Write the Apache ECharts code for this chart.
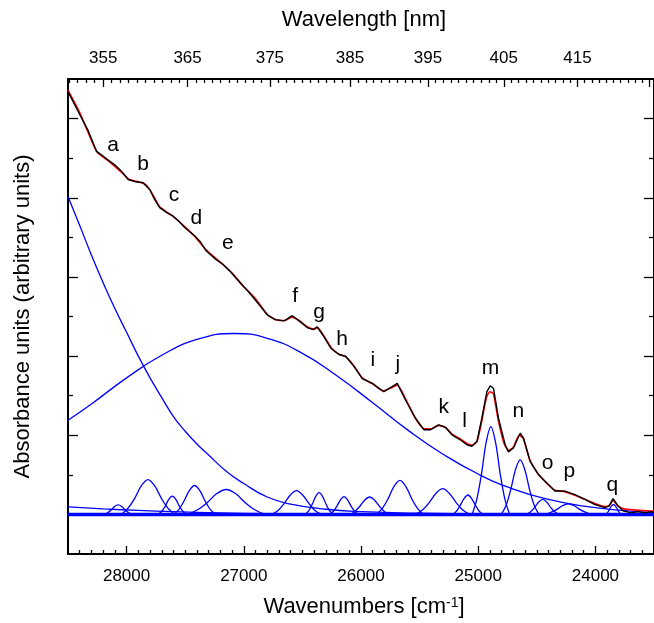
<!DOCTYPE html>
<html><head><meta charset="utf-8">
<script src="https://cdn.jsdelivr.net/npm/echarts@6/dist/echarts.min.js"></script>
<style>html,body{margin:0;padding:0;background:#fff}#c{width:654px;height:623px}</style>
</head><body><div id="c"></div>
<script>
const FONT = "'Liberation Sans', Arial, Helvetica, sans-serif";

// ---- axis ticks ----
const wnMajorTicks = [24000, 25000, 26000, 27000, 28000];
const wlMajorTicks = [355, 365, 375, 385, 395, 405, 415];
const wlUnlabeledMajor = [425];
const yMajorTicks = [0, 2, 4, 6, 8, 10];
const yMinorTicks = [1, 3, 5, 7, 9];

// ---- experimental spectrum (black) [wavenumber, absorbance] ----
const observed = [
  [28500,10.68],[28398,10.09],[28330,9.71],[28256,9.17],[28200,9.05],[28143,8.92],[28092,8.81],
  [28043,8.67],[27987,8.46],[27930,8.41],[27860,8.38],[27803,8.21],[27760,7.95],[27718,7.75],
  [27659,7.63],[27605,7.54],[27556,7.41],[27505,7.25],[27420,7.04],[27369,6.88],[27321,6.66],
  [27250,6.47],[27179,6.32],[27108,6.11],[27037,5.87],[26952,5.60],[26867,5.29],[26799,5.04],
  [26731,4.92],[26655,4.89],[26587,5.02],[26527,4.89],[26459,4.72],[26408,4.67],[26374,4.74],
  [26323,4.52],[26255,4.19],[26187,4.04],[26128,3.99],[26060,3.74],[25989,3.43],[25904,3.31],
  [25805,3.10],[25734,3.23],[25691,3.31],[25620,2.89],[25535,2.43],[25464,2.14],[25407,2.14],
  [25337,2.26],[25280,2.20],[25224,2.01],[25152,1.88],[25096,1.76],[25054,1.72],[25011,1.84],
  [24969,2.43],[24926,3.10],[24897,3.25],[24869,3.18],[24827,2.43],[24770,1.76],[24742,1.58],
  [24699,1.68],[24642,2.05],[24614,1.93],[24557,1.34],[24487,1.01],[24416,0.80],[24345,0.59],
  [24260,0.59],[24175,0.50],[24089,0.38],[24004,0.25],[23919,0.17],[23885,0.21],[23849,0.40],
  [23806,0.21],[23764,0.09],[23693,0.04],[23636,0.07],[23579,0.04],[23523,0.07],[23500,0.05]
];

// ---- fitted spectrum (red) ----
const fitted = [
  [28500,10.72],[28400,10.15],[28300,9.45],[28250,9.15],[28150,8.92],[28050,8.66],[27980,8.47],
  [27900,8.40],[27850,8.36],[27800,8.20],[27720,7.78],[27650,7.62],[27600,7.52],[27500,7.26],
  [27420,7.03],[27320,6.68],[27180,6.32],[27100,6.10],[27000,5.75],[26900,5.45],[26800,5.05],
  [26730,4.92],[26650,4.90],[26590,4.98],[26530,4.90],[26460,4.74],[26400,4.68],[26370,4.72],
  [26320,4.52],[26250,4.20],[26190,4.05],[26130,3.98],[26060,3.75],[25990,3.45],[25900,3.30],
  [25810,3.12],[25740,3.20],[25690,3.27],[25620,2.92],[25540,2.45],[25460,2.16],[25400,2.16],
  [25340,2.25],[25280,2.20],[25220,2.02],[25150,1.90],[25090,1.78],[25050,1.75],[25010,1.85],
  [24970,2.35],[24930,2.95],[24900,3.10],[24870,3.05],[24830,2.40],[24780,1.80],[24740,1.62],
  [24700,1.70],[24650,2.00],[24615,1.92],[24560,1.38],[24490,1.03],[24420,0.80],[24350,0.62],
  [24260,0.57],[24170,0.48],[24090,0.38],[24000,0.27],[23920,0.20],[23880,0.22],[23850,0.36],
  [23810,0.22],[23760,0.14],[23700,0.12],[23600,0.10],[23500,0.08]
];

// ---- fit components (blue) ----
const decayBand = [
  [28500,8.03],[28400,7.30],[28300,6.55],[28200,5.85],[28100,5.20],[28000,4.60],[27900,4.00],
  [27800,3.45],[27700,2.95],[27600,2.47],[27500,2.10],[27400,1.78],[27300,1.50],[27150,1.09],
  [27000,0.78],[26800,0.44],[26600,0.26],[26300,0.13],[26000,0.07],[25500,0.03],[24800,0.01],[23500,0.00]
];
const broadBand = [
  [28500,2.38],[28300,2.79],[28000,3.45],[27700,4.02],[27400,4.42],[27080,4.57],[26800,4.45],
  [26500,4.07],[26200,3.49],[25900,2.82],[25600,2.13],[25300,1.52],[25000,1.02],[24700,0.64],
  [24400,0.38],[24100,0.21],[23800,0.11],[23500,0.05]
];
const tailBand = [
  [28500,0.19],[28200,0.14],[27900,0.10],[27600,0.07],[27200,0.04],[26800,0.02],[26300,0.01],[25500,0.00]
];
const zeroLine = [[28500,0],[23500,0]];

const peakA = [[28192,0],[28162,0.04],[28132,0.11],[28102,0.2],[28072,0.24],[28042,0.2],[28012,0.11],[27982,0.04],[27952,0]];
const peakB = [[28047,0],[27990,0.15],[27932,0.4],[27875,0.72],[27817,0.88],[27760,0.72],[27702,0.4],[27645,0.15],[27587,0]];
const peakC = [[27730,0],[27700,0.08],[27670,0.21],[27640,0.38],[27610,0.46],[27580,0.38],[27550,0.21],[27520,0.08],[27490,0]];
const peakD = [[27600,0],[27555,0.12],[27510,0.34],[27465,0.6],[27420,0.73],[27375,0.6],[27330,0.34],[27285,0.12],[27240,0]];
const peakE = [[27480,0],[27398,0.11],[27315,0.29],[27233,0.52],[27150,0.63],[27068,0.52],[26985,0.29],[26903,0.11],[26820,0]];
const peakF = [[26760,0],[26708,0.1],[26655,0.28],[26603,0.49],[26550,0.6],[26498,0.49],[26445,0.28],[26393,0.1],[26340,0]];
const peakG = [[26477,0],[26447,0.09],[26417,0.25],[26387,0.45],[26357,0.55],[26327,0.45],[26297,0.25],[26267,0.09],[26237,0]];
const peakH = [[26265,0],[26235,0.08],[26205,0.21],[26175,0.37],[26145,0.45],[26115,0.37],[26085,0.21],[26055,0.08],[26025,0]];
const peakI = [[26096,0],[26054,0.07],[26011,0.2],[25969,0.36],[25926,0.44],[25884,0.36],[25841,0.2],[25799,0.07],[25756,0]];
const peakJ = [[25868,0],[25818,0.15],[25768,0.4],[25718,0.71],[25668,0.86],[25618,0.71],[25568,0.4],[25518,0.15],[25468,0]];
const peakK = [[25533,0],[25476,0.11],[25418,0.3],[25361,0.53],[25303,0.65],[25246,0.53],[25188,0.3],[25131,0.11],[25073,0]];
const peakL = [[25218,0],[25186,0.08],[25153,0.23],[25121,0.4],[25088,0.49],[25056,0.4],[25023,0.23],[24991,0.08],[24958,0]];
const peakM = [[25052,0],[25012,0.38],[24972,1.02],[24932,1.82],[24892,2.22],[24852,1.82],[24812,1.02],[24772,0.38],[24732,0]];
const peakN = [[24802,0],[24762,0.23],[24722,0.63],[24682,1.13],[24642,1.38],[24602,1.13],[24562,0.63],[24522,0.23],[24482,0]];
const peakO = [[24590,0],[24555,0.06],[24520,0.17],[24485,0.31],[24450,0.38],[24415,0.31],[24380,0.17],[24345,0.06],[24310,0]];
const peakP = [[24431,0],[24381,0.05],[24331,0.12],[24281,0.22],[24231,0.27],[24181,0.22],[24131,0.12],[24081,0.05],[24031,0]];
const peakQ = [[23916,0],[23898,0.04],[23881,0.12],[23863,0.21],[23846,0.25],[23829,0.21],[23811,0.12],[23794,0.04],[23776,0]];
const peaks = [peakA,peakB,peakC,peakD,peakE,peakF,peakG,peakH,peakI,peakJ,peakK,peakL,peakM,peakN,peakO,peakP,peakQ];

// ---- band letters [letter, wavenumber, absorbance] ----
const bandLetters = ['a','b','c','d','e','f','g','h','i','j','k','l','m','n','o','p','q'];
const bandLetterWn = [28115,27860,27596,27406,27137,26561,26357,26162,25898,25686,25294,25116,24895,24657,24407,24223,23855];
const bandLetterY  = [9.34,8.84,8.07,7.48,6.84,5.52,5.12,4.42,3.89,3.79,2.70,2.36,3.69,2.60,1.30,1.09,0.75];

// top-axis placement of wavelength ticks
function wlToAxis(nm){ const t = nm - 385; return 26094 - 67.45 * t + 0.0917 * t * t; }

const minorWn = [];
for (let v = 23600; v <= 28400; v += 100) if (v % 1000 !== 0) minorWn.push(v);
const minorWl = [];
for (let nm = 351; nm <= 425; nm++) if ((nm - 5) % 10 !== 0) minorWl.push(wlToAxis(nm));
const majorWlPos = wlMajorTicks.map(wlToAxis);
const majorWlTickPos = majorWlPos.concat(wlUnlabeledMajor.map(wlToAxis));

const chart = echarts.init(document.getElementById('c'), null, {renderer: 'canvas'});
const black = '#000';
const axisLine = {show: true, onZero: false, lineStyle: {color: black, width: 2}};
const noLine = {show: false, onZero: false};
const tickStyle = {color: black, width: 1.3};
const labelStyle = {color: black, fontSize: 17, fontFamily: FONT};

function xAx(extra){ return Object.assign({type:'value', min:23500, max:28500, inverse:true, splitLine:{show:false}, axisLine: axisLine}, extra); }
function yAx(extra){ return Object.assign({type:'value', min:-1, max:11, splitLine:{show:false}, axisLine: axisLine, axisLabel:{show:false}}, extra); }

const series = [];
series.push({type:'line', data: zeroLine, symbol:'none', lineStyle:{color:'#0000ff', width:3.5}, silent:true, z:2});
[tailBand, decayBand, broadBand].forEach(d => series.push({type:'line', data:d, symbol:'none', smooth:true, lineStyle:{color:'#0000ff', width:1.3}, z:2}));
peaks.forEach(d => series.push({type:'line', data:d, symbol:'none', smooth:0.35, lineStyle:{color:'#0000ff', width:1.3}, z:2}));
series.push({type:'line', data: fitted, symbol:'none', smooth:0.2, lineStyle:{color:'#ff0000', width:1.6}, z:3});
series.push({type:'line', data: observed, symbol:'none', lineStyle:{color:'#000', width:1.4}, z:4});
series.push({type:'scatter', symbolSize:0, z:5, itemStyle:{opacity:1},
  data: bandLetters.map((l,i) => ({name:l, value:[bandLetterWn[i], bandLetterY[i]]})),
  label:{show:true, position:'inside', formatter: p => p.name, color: black, opacity: 1, textBorderWidth: 0, fontSize: 21, fontFamily: FONT}});

chart.setOption({
  animation: false,
  backgroundColor: '#fff',
  grid: {left: 68, top: 79, width: 588, height: 477, containLabel: false},
  xAxis: [
    xAx({position:'bottom', axisTick:{inside:true, length:8, customValues: wnMajorTicks, lineStyle: tickStyle},
      axisLabel:{customValues: wnMajorTicks, margin: 14, formatter: v => String(v), ...labelStyle},
      name: '{t|Wavenumbers [cm}{s|-1}{t|]}', nameLocation:'middle', nameGap: 42,
      nameTextStyle:{color: black, fontSize: 22, fontFamily: FONT, padding:[0,0,0,6],
        rich:{t:{fontSize:22, fontFamily: FONT, color: black}, s:{fontSize:14, fontFamily: FONT, color: black, verticalAlign:'top'}}}}),
    xAx({position:'bottom', axisLine: noLine, axisTick:{inside:true, length:4, customValues: minorWn, lineStyle: tickStyle}, axisLabel:{show:false}}),
    xAx({position:'top', axisTick:{inside:true, length:8, customValues: majorWlTickPos, lineStyle: tickStyle},
      axisLabel:{customValues: majorWlPos, margin: 12, ...labelStyle,
        formatter: v => { let best = wlMajorTicks[0], d = 1e9; wlMajorTicks.forEach(nm => { const dd = Math.abs(wlToAxis(nm) - v); if (dd < d) { d = dd; best = nm; } }); return String(best); }},
      name: 'Wavelength [nm]', nameLocation:'middle', nameGap: 48,
      nameTextStyle:{color: black, fontSize: 22, fontFamily: FONT, padding:[0,0,0,6]}}),
    xAx({position:'top', axisLine: noLine, axisTick:{inside:true, length:4, customValues: minorWl, lineStyle: tickStyle}, axisLabel:{show:false}})
  ],
  yAxis: [
    yAx({position:'left', axisTick:{inside:true, length:10, customValues: yMajorTicks, lineStyle: tickStyle},
      name: 'Absorbance units (arbitrary units)', nameLocation:'middle', nameGap: 34, nameRotate: 90,
      nameTextStyle:{color: black, fontSize: 22, fontFamily: FONT}}),
    yAx({position:'left', axisLine: noLine, axisTick:{inside:true, length:5, customValues: yMinorTicks, lineStyle: tickStyle}}),
    yAx({position:'right', axisTick:{inside:true, length:10, customValues: yMajorTicks, lineStyle: tickStyle}}),
    yAx({position:'right', axisLine: noLine, axisTick:{inside:true, length:5, customValues: yMinorTicks, lineStyle: tickStyle}})
  ],
  series: series
});
</script></body></html>
